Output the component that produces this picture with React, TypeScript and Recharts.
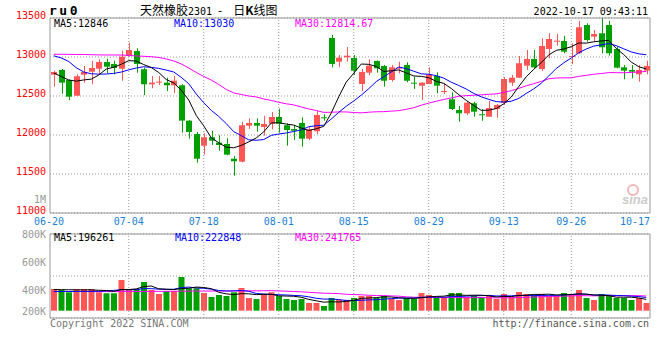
import React from 'react';
import { ComposedChart, Bar, Line, XAxis, YAxis, CartesianGrid, ReferenceLine, ReferenceArea, Cell } from 'recharts';

// trading days shown on the daily K chart
const dates = [
  '06-20', '06-21', '06-22', '06-23', '06-24', '06-27', '06-28', '06-29', '06-30', '07-01',
  '07-04', '07-05', '07-06', '07-07', '07-08', '07-11', '07-12', '07-13', '07-14', '07-15',
  '07-18', '07-19', '07-20', '07-21', '07-22', '07-25', '07-26', '07-27', '07-28', '07-29',
  '08-01', '08-02', '08-03', '08-04', '08-05', '08-08', '08-09', '08-10', '08-11', '08-12',
  '08-15', '08-16', '08-17', '08-18', '08-19', '08-22', '08-23', '08-24', '08-25', '08-26',
  '08-29', '08-30', '08-31', '09-01', '09-02', '09-05', '09-06', '09-07', '09-08', '09-09',
  '09-13', '09-14', '09-15', '09-16', '09-19', '09-20', '09-21', '09-22', '09-23',
  '09-26', '09-27', '09-28', '09-29', '09-30',
  '10-10', '10-11', '10-12', '10-13', '10-14', '10-17',
];

const openPrices = [
  12773, 12834, 12705, 12504, 12773, 12812, 12850, 12936, 12911, 12850,
  13013, 13077, 12843, 12650, 12671, 12671, 12637, 12637, 12184, 12013,
  11863, 11971, 11902, 11885, 11696, 11658, 12120, 12154, 12103, 12144,
  12231, 12125, 12077, 12154, 11953, 12048, 12227, 13244, 12940, 12996,
  12987, 12654, 12799, 12949, 12885, 12705, 12855, 12898, 12671, 12632,
  12654, 12757, 12552, 12458, 12321, 12278, 12407, 12266, 12235, 12334,
  12411, 12671, 12735, 12889, 12975, 12846, 13103, 13202, 13205, 13004,
  13048, 13410, 13261, 13304, 13410, 13103, 12868, 12834, 12778, 12825,
];
const highPrices = [
  12825, 12846, 12714, 12778, 12885, 12949, 12971, 12978, 12953, 13081,
  13184, 13112, 12863, 12757, 12757, 12735, 12757, 12650, 12190, 12039,
  12022, 12055, 11996, 11958, 11731, 12167, 12214, 12214, 12244, 12295,
  12337, 12150, 12125, 12227, 12107, 12308, 12266, 13282, 13026, 13128,
  13026, 12846, 12971, 12955, 12898, 12898, 12940, 12932, 12748, 12675,
  12868, 12804, 12663, 12548, 12372, 12436, 12427, 12330, 12436, 12398,
  12744, 12770, 13013, 13090, 13090, 13240, 13304, 13295, 13273, 13176,
  13462, 13432, 13346, 13496, 13462, 13132, 12898, 12898, 12898, 12953,
];
const lowPrices = [
  12620, 12530, 12449, 12500, 12671, 12650, 12778, 12791, 12778, 12696,
  13004, 12799, 12513, 12599, 12641, 12564, 12535, 12030, 11953, 11645,
  11748, 11872, 11799, 11740, 11479, 11650, 12077, 12043, 11991, 12073,
  12030, 11863, 11936, 11850, 11936, 12013, 12184, 12868, 12868, 12940,
  12770, 12564, 12766, 12799, 12620, 12684, 12791, 12676, 12590, 12449,
  12650, 12535, 12526, 12321, 12171, 12257, 12235, 12184, 12230, 12222,
  12385, 12629, 12730, 12834, 12846, 12821, 12984, 13145, 13048, 12907,
  13039, 13196, 13205, 13048, 13017, 12855, 12714, 12727, 12684, 12778,
];
const closePrices = [
  12808, 12671, 12491, 12753, 12808, 12859, 12936, 12876, 12859, 13004,
  13090, 12911, 12650, 12671, 12684, 12637, 12696, 12184, 12039, 11696,
  11971, 11927, 11872, 11748, 11663, 12125, 12154, 12120, 12141, 12231,
  12144, 12064, 12055, 11953, 12073, 12257, 12218, 12911, 12991, 13017,
  12825, 12808, 12889, 12855, 12696, 12868, 12863, 12696, 12663, 12671,
  12778, 12632, 12564, 12334, 12278, 12414, 12299, 12253, 12346, 12385,
  12718, 12735, 12920, 12975, 12868, 13141, 13231, 13209, 13068, 13013,
  13381, 13218, 13295, 13125, 13048, 12863, 12825, 12812, 12834, 12885,
];

const ma5 = [
  12795, 12750, 12705, 12690, 12706, 12716, 12769, 12846, 12868, 12907,
  12953, 12948, 12903, 12865, 12801, 12711, 12668, 12574, 12448, 12250,
  12117, 11963, 11901, 11843, 11836, 11867, 11912, 11962, 12041, 12154,
  12158, 12140, 12127, 12089, 12058, 12080, 12111, 12282, 12490, 12679,
  12792, 12910, 12906, 12879, 12815, 12823, 12834, 12796, 12757, 12752,
  12734, 12688, 12662, 12596, 12517, 12444, 12378, 12316, 12318, 12339,
  12400, 12487, 12621, 12747, 12843, 12928, 13027, 13085, 13103, 13132,
  13180, 13178, 13195, 13206, 13213, 13110, 13031, 12935, 12876, 12846,
];
const ma10 = [
  13015, 12988, 12942, 12862, 12808, 12785, 12780, 12782, 12790, 12807,
  12835, 12859, 12875, 12867, 12854, 12832, 12808, 12739, 12657, 12526,
  12414, 12316, 12238, 12146, 12043, 11992, 11938, 11932, 11942, 11995,
  12013, 12026, 12045, 12065, 12106, 12119, 12126, 12205, 12290, 12369,
  12436, 12511, 12594, 12685, 12747, 12808, 12872, 12851, 12818, 12784,
  12779, 12761, 12729, 12677, 12635, 12589, 12533, 12489, 12457, 12428,
  12422, 12433, 12469, 12533, 12591, 12664, 12757, 12853, 12925, 12988,
  13054, 13103, 13140, 13155, 13173, 13145, 13105, 13065, 13041, 13029,
];
const ma30 = [
  13035, 13035, 13034, 13032, 13032, 13030, 13027, 13026, 13026, 13025,
  13022, 13013, 13009, 13004, 12994, 12975, 12949, 12911, 12859, 12802,
  12750, 12705, 12648, 12584, 12539, 12520, 12500, 12488, 12462, 12443,
  12420, 12400, 12386, 12359, 12334, 12314, 12290, 12292, 12296, 12296,
  12288, 12284, 12292, 12298, 12299, 12306, 12312, 12329, 12350, 12382,
  12409, 12433, 12456, 12475, 12496, 12505, 12510, 12515, 12522, 12527,
  12546, 12568, 12597, 12631, 12658, 12687, 12721, 12731, 12733, 12733,
  12752, 12765, 12779, 12788, 12800, 12799, 12798, 12802, 12808, 12815,
];

const volumes = [
  380000, 362000, 322000, 380000, 380000, 380000, 322000, 305000, 305000, 537000,
  380000, 380000, 502000, 362000, 292000, 345000, 345000, 590000, 392000, 392000,
  310000, 240000, 275000, 257000, 322000, 397000, 222000, 205000, 292000, 322000,
  257000, 205000, 187000, 205000, 135000, 135000, 82000, 222000, 187000, 187000,
  222000, 257000, 257000, 222000, 257000, 205000, 187000, 222000, 205000, 310000,
  275000, 240000, 240000, 310000, 310000, 240000, 257000, 240000, 257000, 205000,
  292000, 240000, 327000, 292000, 275000, 292000, 257000, 257000, 310000, 292000,
  362000, 222000, 187000, 292000, 257000, 222000, 222000, 187000, 222000, 135000,
];
const volMa5 = [
  370000, 368000, 366000, 365000, 365000, 365000, 357000, 353000, 338000, 370000,
  370000, 381000, 421000, 432000, 383000, 376000, 369000, 387000, 393000, 413000,
  406000, 385000, 322000, 295000, 281000, 298000, 295000, 281000, 288000, 288000,
  260000, 256000, 253000, 235000, 198000, 173000, 149000, 156000, 152000, 163000,
  180000, 215000, 222000, 229000, 243000, 240000, 226000, 219000, 215000, 226000,
  240000, 250000, 254000, 275000, 275000, 268000, 271000, 271000, 261000, 240000,
  250000, 247000, 264000, 271000, 285000, 285000, 289000, 275000, 278000, 282000,
  296000, 289000, 275000, 271000, 264000, 236000, 236000, 236000, 222000, 198000,
];
const volMa10 = [
  335000, 335000, 336000, 336000, 337000, 338000, 340000, 345000, 355000, 367000,
  367000, 369000, 387000, 385000, 377000, 373000, 375000, 404000, 413000, 398000,
  391000, 377000, 354000, 344000, 347000, 352000, 340000, 301000, 291000, 284000,
  279000, 275000, 267000, 261000, 243000, 217000, 203000, 204000, 194000, 180000,
  177000, 182000, 189000, 191000, 203000, 210000, 220000, 220000, 222000, 234000,
  240000, 238000, 236000, 245000, 250000, 254000, 261000, 263000, 268000, 257000,
  259000, 259000, 268000, 266000, 263000, 268000, 268000, 269000, 275000, 283000,
  290000, 289000, 275000, 275000, 273000, 266000, 262000, 255000, 247000, 231000,
];
const volMa30 = [
  338000, 337000, 336000, 336000, 335000, 335000, 334000, 334000, 334000, 335000,
  336000, 336000, 337000, 338000, 338000, 339000, 340000, 341000, 342000, 343000,
  343000, 344000, 344000, 345000, 346000, 346000, 347000, 348000, 349000, 350000,
  346000, 341000, 336000, 330000, 322000, 314000, 306000, 303000, 299000, 287000,
  282000, 278000, 270000, 265000, 264000, 259000, 254000, 242000, 236000, 233000,
  232000, 232000, 231000, 232000, 232000, 227000, 228000, 229000, 228000, 224000,
  225000, 226000, 231000, 234000, 239000, 244000, 250000, 251000, 255000, 258000,
  263000, 262000, 260000, 262000, 262000, 262000, 264000, 262000, 263000, 257000,
];

const tickDates = ['06-20', '07-04', '07-18', '08-01', '08-15', '08-29', '09-13', '09-26', '10-17'];
const priceTicks = [11000, 11500, 12000, 12500, 13000, 13500];
const volLabelTicks = [200000, 400000, 600000, 800000];

const UP = '#ff5555';
const DOWN = '#00a000';
const MONO = '"DejaVu Sans Mono", monospace';
const GRID = '#999';

const rows = dates.map((d, i) => ({
  i,
  date: d,
  open: openPrices[i],
  high: highPrices[i],
  low: lowPrices[i],
  close: closePrices[i],
  range: [lowPrices[i], highPrices[i]],
  ma5: ma5[i],
  ma10: ma10[i],
  ma30: ma30[i],
  vol: volumes[i],
  vma5: volMa5[i],
  vma10: volMa10[i],
  vma30: volMa30[i],
}));

const tickIdx = tickDates.map(d => dates.indexOf(d));
const innerTicks = tickIdx.slice(1, -1);
const xDomain = [-0.5, dates.length - 0.5];

const Candle = (props: any) => {
  const { x, y, width, height, index } = props;
  const p = props.payload && props.payload.open !== undefined ? props.payload : rows[index];
  const color = p.close >= p.open ? UP : DOWN;
  const top = Math.min(y, y + height);
  const h = Math.abs(height);
  const k = p.high > p.low ? h / (p.high - p.low) : 0;
  const bodyTop = top + (p.high - Math.max(p.open, p.close)) * k;
  const bodyH = Math.max(1, Math.abs(p.close - p.open) * k);
  const left = Math.round(x);
  const cx = left + Math.floor(width / 2) + 0.5;
  return (
    <g>
      <line x1={cx} x2={cx} y1={top} y2={top + h} stroke={color} strokeWidth={1} />
      <rect x={left} y={bodyTop} width={width} height={bodyH} fill={color} />
    </g>
  );
};

const DateTick = (props: any) => {
  const { x, payload } = props;
  const first = payload.value === tickIdx[0];
  const last = payload.value === tickIdx[tickIdx.length - 1];
  return (
    <text
      x={first ? x - 4.75 : last ? x + 3.75 : x}
      y={225}
      textAnchor={last ? 'end' : 'middle'}
      fill="#1a7fd6"
      fontSize={10}
      fontFamily={MONO}
    >
      {dates[payload.value]}
    </text>
  );
};

const PriceTick = (props: any) => (
  <text x={46} y={props.y + 1} textAnchor="end" fill="#f00" fontSize={10} fontFamily={MONO}>
    {props.payload.value}
  </text>
);

// sina keeps the outer volume labels inside the panel
const VolTick = (props: any) => (
  <text
    x={46}
    y={Math.min(Math.max(props.y + 4, 5), 85)}
    textAnchor="end"
    fill="#999"
    fontSize={10}
    fontFamily={MONO}
  >
    {props.payload.value / 1000 + 'K'}
  </text>
);

const PriceChart = () => (
  <ComposedChart width={660} height={240} data={rows} margin={{ top: 18, right: 10, bottom: 7, left: 0 }}>
    <CartesianGrid vertical={false} stroke={GRID} strokeDasharray="1 2" />
    <XAxis
      dataKey="i"
      type="number"
      domain={xDomain}
      ticks={tickIdx}
      interval={0}
      tick={<DateTick />}
      tickLine={false}
      axisLine={false}
      height={20}
      allowDataOverflow
    />
    <YAxis
      domain={[11000, 13500]}
      ticks={priceTicks}
      interval={0}
      tick={<PriceTick />}
      width={50}
      tickLine={false}
      axisLine={false}
      allowDataOverflow
    />
    {innerTicks.map(t => (
      <ReferenceLine key={t} x={t} stroke={GRID} strokeDasharray="1 2" />
    ))}
    <ReferenceArea x1={xDomain[0]} x2={xDomain[1]} y1={11000} y2={13500} fill="none" fillOpacity={0} stroke={GRID} strokeWidth={1} ifOverflow="visible" />
    <Bar dataKey="range" barSize={6} shape={<Candle />} isAnimationActive={false} />
    <Line dataKey="ma30" stroke="#ff00ff" strokeWidth={1} dot={false} activeDot={false} isAnimationActive={false} />
    <Line dataKey="ma10" stroke="#0000ff" strokeWidth={1} dot={false} activeDot={false} isAnimationActive={false} />
    <Line dataKey="ma5" stroke="#000" strokeWidth={1} dot={false} activeDot={false} isAnimationActive={false} />
  </ComposedChart>
);

// volume scale: hidden default axis, ticks split the panel in quarters for the grid
const volDomain = [-128000, 1342000];
const volQuarter = (volDomain[1] - volDomain[0]) / 4;
const volGridTicks = [0, 1, 2, 3, 4].map(q => volDomain[0] + q * volQuarter);

const VolumeChart = () => (
  <ComposedChart width={660} height={130} data={rows} margin={{ top: 4, right: 10, bottom: 42, left: 0 }}>
    <XAxis dataKey="i" type="number" domain={xDomain} hide allowDataOverflow />
    <YAxis domain={volDomain} ticks={volGridTicks} hide allowDataOverflow />
    <YAxis
      yAxisId="lab"
      domain={[200000, 800000]}
      ticks={volLabelTicks}
      interval={0}
      tick={<VolTick />}
      width={50}
      tickLine={false}
      axisLine={false}
      allowDataOverflow
    />
    <CartesianGrid vertical={false} stroke={GRID} strokeDasharray="1 2" />
    {innerTicks.map(t => (
      <ReferenceLine key={t} x={t} stroke={GRID} strokeDasharray="1 2" />
    ))}
    <ReferenceArea x1={xDomain[0]} x2={xDomain[1]} y1={volDomain[0]} y2={volDomain[1]} fill="none" fillOpacity={0} stroke={GRID} strokeWidth={1} ifOverflow="visible" />
    <Bar dataKey="vol" barSize={6} isAnimationActive={false}>
      {rows.map(r => (
        <Cell key={r.i} fill={r.close >= r.open ? UP : DOWN} />
      ))}
    </Bar>
    <Line dataKey="vma30" stroke="#ff00ff" strokeWidth={1} dot={false} activeDot={false} isAnimationActive={false} />
    <Line dataKey="vma10" stroke="#0000ff" strokeWidth={1} dot={false} activeDot={false} isAnimationActive={false} />
    <Line dataKey="vma5" stroke="#000" strokeWidth={1} dot={false} activeDot={false} isAnimationActive={false} />
  </ComposedChart>
);

export default function App() {
  return (
    <div style={{ position: 'absolute', left: 0, top: 0, width: 660, height: 360, background: '#fff' }}>
      <div style={{ position: 'absolute', left: 0, top: 0 }}>
        <PriceChart />
      </div>
      <div style={{ position: 'absolute', left: 0, top: 230 }}>
        <VolumeChart />
      </div>
      <svg width={660} height={360} style={{ position: 'absolute', left: 0, top: 0, pointerEvents: 'none' }}>
        <text x={49} y={15} fontSize={13} fontWeight="bold" fontFamily={MONO} letterSpacing={2.5} fill="#000">ru0</text>
        <text x={140} y={15} fontSize={12} fontFamily='"Noto Sans CJK SC", sans-serif' fill="#000">
          天然橡胶
          <tspan fontFamily={MONO} fontSize={10}>2301</tspan>
          <tspan dx={6}>-</tspan>
          <tspan dx={11}>日</tspan>
          <tspan fontWeight="bold">K</tspan>
          <tspan>线图</tspan>
        </text>
        <text x={648} y={15} textAnchor="end" fontSize={10} fontFamily={MONO} fill="#000">2022-10-17 09:43:11</text>

        <text x={54} y={27} fontSize={10} fontFamily={MONO} fill="#000">MA5:12846</text>
        <text x={174} y={27} fontSize={10} fontFamily={MONO} fill="#0000ff">MA10:13030</text>
        <text x={295} y={27} fontSize={10} fontFamily={MONO} fill="#ff00ff">MA30:12814.67</text>

        <text x={46} y={203} textAnchor="end" fontSize={10} fontFamily={MONO} fill="#999">1M</text>

        <text x={54} y={241} fontSize={10} fontFamily={MONO} fill="#000">MA5:196261</text>
        <text x={175} y={241} fontSize={10} fontFamily={MONO} fill="#0000ff">MA10:222848</text>
        <text x={295} y={241} fontSize={10} fontFamily={MONO} fill="#ff00ff">MA30:241765</text>

        <text x={50} y={327} fontSize={10} fontFamily={MONO} fill="#777">Copyright 2022 SINA.COM</text>
        <text x={649} y={327} textAnchor="end" fontSize={10} fontFamily={MONO} fill="#555">http://finance.sina.com.cn</text>

        {/* faint sina watermark */}
        <circle cx={633} cy={190} r={5} fill="none" stroke="#f2b8b8" strokeWidth={2} />
        <text x={635} y={204} textAnchor="middle" fontSize={13} fontStyle="italic" fontWeight="bold" fontFamily='"Liberation Sans", sans-serif' fill="#cccccc">sina</text>
      </svg>
    </div>
  );
}
